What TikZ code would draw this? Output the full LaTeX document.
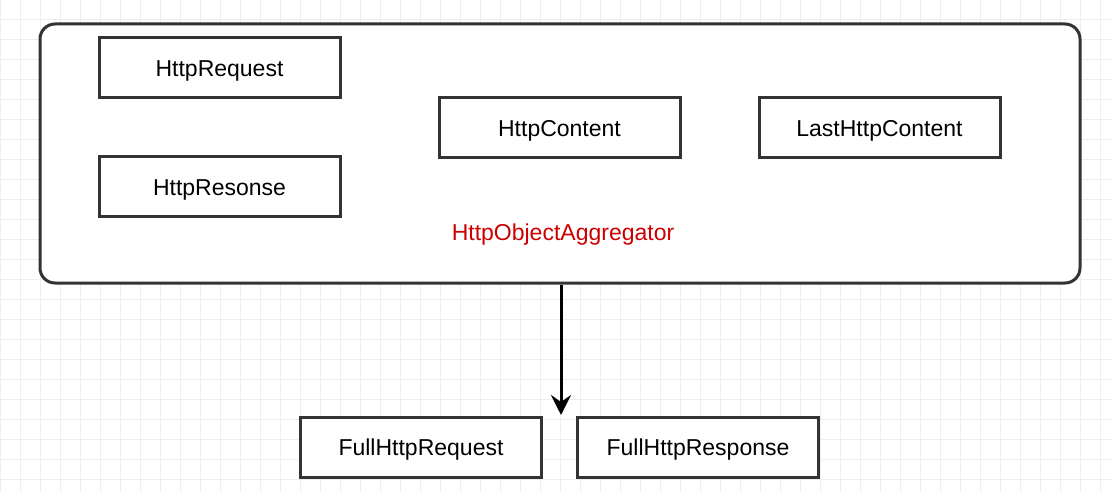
\documentclass[tikz,border=0pt]{standalone}
\usepackage{fontspec}
\setmainfont{Liberation Sans}
\usetikzlibrary{arrows.meta,positioning}
\definecolor{ink}{HTML}{333333}
\definecolor{gridc}{HTML}{EDEDF8}
\definecolor{tag}{HTML}{CC0000}
\tikzset{
  msgbox/.style={draw=ink,line width=3pt,fill=white,minimum width=241pt,minimum height=60pt,inner sep=0pt,text height=16.5pt,text depth=0pt},
  aggbox/.style={draw=ink,line width=3pt,fill=white,rounded corners=15pt,minimum width=1040pt,minimum height=259pt,inner sep=0pt}
}
\begin{document}
\begin{tikzpicture}[x=1pt,y=-1pt,font=\fontsize{23}{28}\selectfont]
\useasboundingbox (0,0) rectangle (1112,492);
\fill[white] (0,0) rectangle (1112,492);
% background grid
\foreach \i in {0,...,55} {\draw[gridc,line width=1pt] (20*\i+0.5,0) -- (20*\i+0.5,492);}
\foreach \j in {0,...,24} {\draw[gridc,line width=1pt] (0,20*\j+19.5) -- (1112,20*\j+19.5);}
% the aggregator and what goes into it
\node[aggbox] (agg) at (560,153.5) {};
\node[msgbox] (req) at (219.5,68) {HttpRequest};
\node[msgbox] (resp) at (219.5,187) {HttpResonse};
\node[msgbox] (content) at (559.5,128) {HttpContent};
\node[msgbox] (last) at (879.5,128) {LastHttpContent};
\node[text=tag,text height=16.5pt,text depth=0pt] (aggname) at (563,232) {HttpObjectAggregator};
% what comes out
\node[msgbox] (fullreq) at (421,447.5) {FullHttpRequest};
\node[msgbox] (fullresp) at (698,447.5) {FullHttpResponse};
\coordinate (tip) at (561,415);
\draw[line width=3pt,-{Stealth[length=20pt,width=20pt,inset=7pt]}] (agg.south -| tip) -- (tip);
\end{tikzpicture}
\end{document}
